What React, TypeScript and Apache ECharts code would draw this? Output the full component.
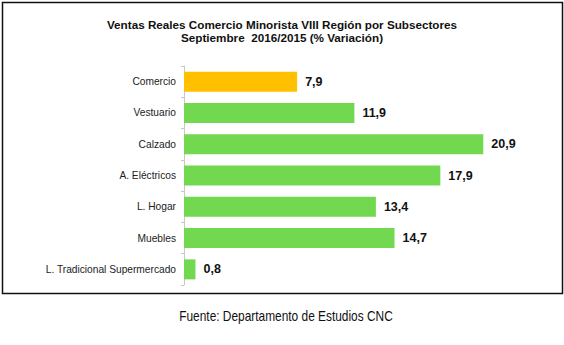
import React, { useEffect, useRef } from "react";
import * as echarts from "echarts";

const categories = [
  "Comercio",
  "Vestuario",
  "Calzado",
  "A. Eléctricos",
  "L. Hogar",
  "Muebles",
  "L. Tradicional Supermercado",
];
const values = [7.9, 11.9, 20.9, 17.9, 13.4, 14.7, 0.8];
const barColors = ["#FFC000", "#72D84F", "#72D84F", "#72D84F", "#72D84F", "#72D84F", "#72D84F"];
const titleLines = [
  "Ventas Reales Comercio Minorista VIII Región por Subsectores",
  "Septiembre  2016/2015 (% Variación)",
];
const sourceText = "Fuente: Departamento de Estudios CNC";

export default function App() {
  const ref = useRef<HTMLDivElement>(null);
  useEffect(() => {
    if (!ref.current) return;
    const chart = echarts.init(ref.current, null, { renderer: "svg" });
    chart.setOption({
      animation: false,
      backgroundColor: "#ffffff",
      title: {
        text: titleLines.join("\n"),
        left: "center",
        top: 13,
        textStyle: {
          fontFamily: "Liberation Sans, Arial, sans-serif",
          fontSize: 11.7,
          fontWeight: "bold",
          color: "#111",
          lineHeight: 13,
        },
      },
      grid: { left: 184, top: 66, height: 219, width: 358 },
      xAxis: {
        type: "value",
        min: 0,
        max: 25,
        show: false,
      },
      yAxis: {
        type: "category",
        inverse: true,
        data: categories,
        axisLine: { show: true, lineStyle: { color: "#c8c8c8", width: 1 } },
        axisTick: { show: true, length: 3, lineStyle: { color: "#c8c8c8" } },
        axisLabel: {
          margin: 8,
          fontFamily: "Liberation Sans, Arial, sans-serif",
          fontSize: 10.2,
          color: "#222",
        },
        splitLine: { show: false },
      },
      series: [
        {
          type: "bar",
          barWidth: 20,
          data: values.map((v, i) => ({ value: v, itemStyle: { color: barColors[i] } })),
          label: {
            show: true,
            position: "right",
            distance: 8,
            formatter: (p: any) => String(p.value.toFixed(1)).replace(".", ","),
            fontFamily: "Liberation Sans, Arial, sans-serif",
            fontSize: 12.5,
            fontWeight: "bold",
            color: "#111",
          },
        },
      ],
      graphic: [
        {
          type: "rect",
          shape: { x: 2.5, y: 2.5, width: 560, height: 291 },
          style: { fill: "none", stroke: "#111", lineWidth: 1.5 },
          silent: true,
        },
        {
          type: "text",
          x: 286,
          y: 316,
          scaleX: 0.85,
          style: {
            text: sourceText,
            align: "center",
            verticalAlign: "middle",
            fontFamily: "Liberation Sans, Arial, sans-serif",
            fontSize: 14,
            fill: "#111",
          },
        },
      ],
    });
    return () => chart.dispose();
  }, []);
  return (
    <div
      ref={ref}
      style={{ position: "fixed", left: 0, top: 0, width: 564, height: 345 }}
    />
  );
}
